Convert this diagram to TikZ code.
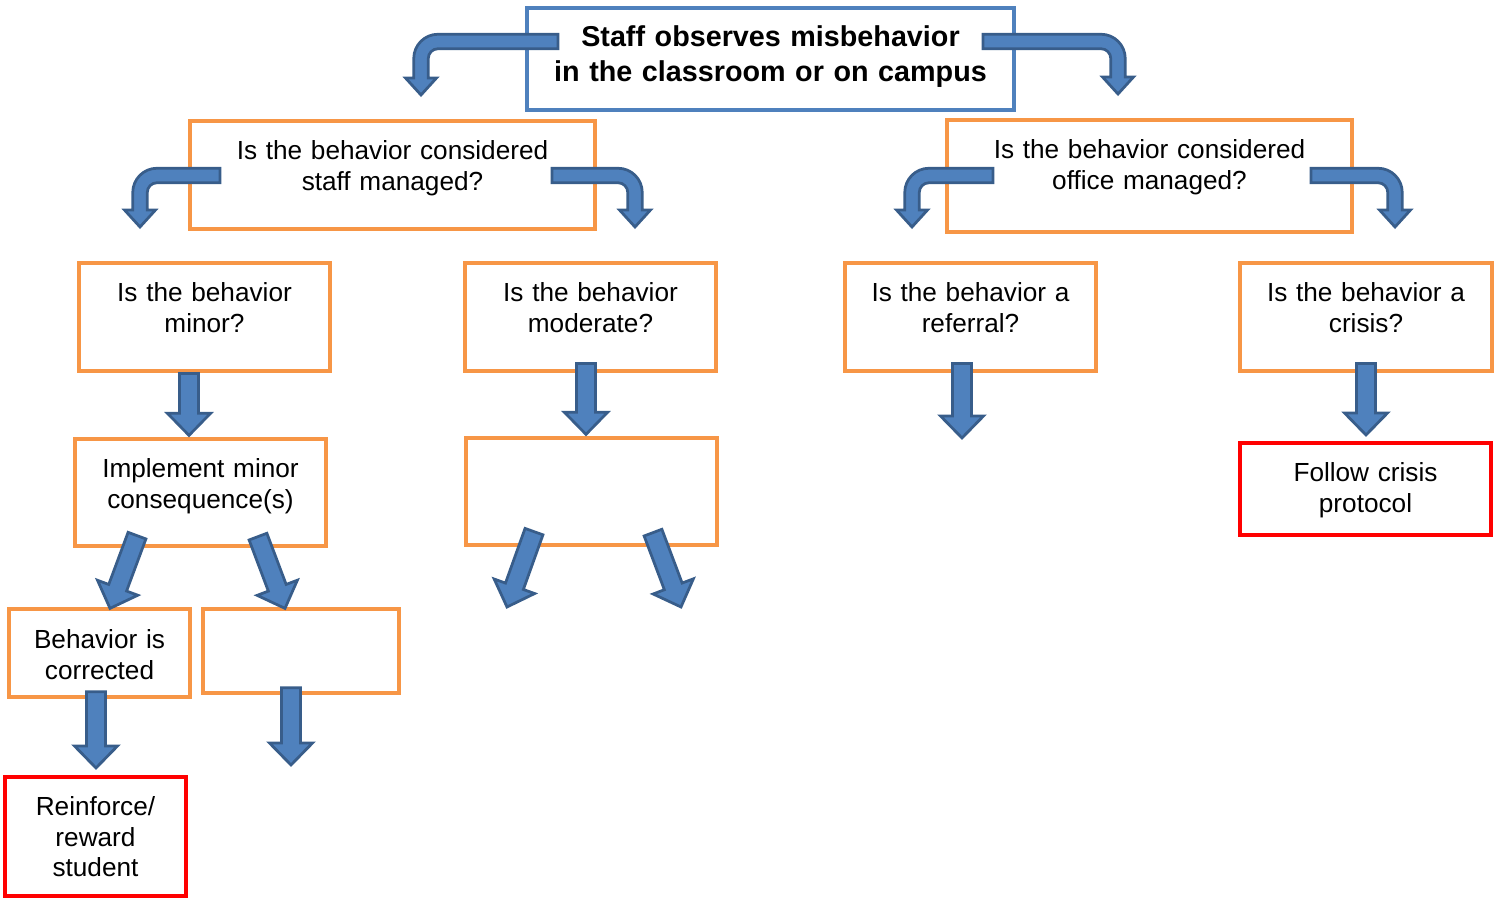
\documentclass[tikz,border=0pt]{standalone}
\usepackage{fontspec}
\setmainfont{Liberation Sans}
\usetikzlibrary{calc}

\definecolor{arrowfill}{HTML}{4F81BD}
\definecolor{arrowline}{HTML}{385D8A}
\definecolor{boxorange}{HTML}{F79646}
\definecolor{boxblue}{HTML}{4F81BD}

\tikzset{
	blockarrow/.style={fill=arrowfill,draw=arrowline,line width=.55mm},
	qbox/.style={draw=boxorange,line width=.65mm,inner sep=0pt,align=center,
		text height=7.7mm,font=\fontsize{14.9}{17.4}\selectfont},
	endbox/.style={qbox,draw=red,line width=.8mm},
	emptybox/.style={draw=boxorange,line width=.65mm,inner sep=0pt},
}

% straight block arrow from #1 to the tip #2
\newcommand\blockarrow[2]{%
	\path #1 coordinate (bs) #2 coordinate (bt);
	\path ($(bt)!4.4mm!(bs)$) coordinate (bh);
	\filldraw[blockarrow] ($(bs)!1.9mm!90:(bt)$) -- ($(bh)!1.9mm!-90:(bs)$)
		-- ($(bh)!4.3mm!-90:(bs)$) -- (bt) -- ($(bh)!4.3mm!90:(bs)$)
		-- ($(bh)!1.9mm!90:(bs)$) -- ($(bs)!1.9mm!-90:(bt)$) -- cycle;}

% bent block arrow, across from #2 then down to the tip #3 (#1: -1 left, 1 right)
\newcommand\bentarrow[3]{%
	\filldraw[blockarrow] let \p1=#2, \p2=#3 in
		(\x1,\y1+1.45mm) -- ({\x2-(#1)*3.4mm},\y1+1.45mm)
		arc[start angle=90,end angle={90-90*(#1)},radius=4.85mm]
		-- ({\x2+(#1)*1.45mm},\y2+3.4mm) -- ({\x2+(#1)*3.1mm},\y2+3.4mm) -- (\x2,\y2)
		-- ({\x2-(#1)*3.1mm},\y2+3.4mm) -- ({\x2-(#1)*1.45mm},\y2+3.4mm)
		-- ({\x2-(#1)*1.45mm},\y1-3.4mm)
		arc[start angle={90-90*(#1)},end angle=90,radius=1.95mm]
		-- (\x1,\y1-1.45mm) -- cycle;}

\begin{document}
\begin{tikzpicture}[x=.2mm,y=-.2mm]
	\useasboundingbox (0,0) rectangle (1500,898);

	% boxes
	\node[qbox,draw=boxblue,text width=97.4mm,text height=7.8mm,text depth=12.6mm,
		font=\fontsize{16.35}{19.9}\selectfont\bfseries] (top) at (770.5,59)
		{Staff observes misbehavior\\in the classroom or on campus};
	\node[qbox,text width=81mm,text depth=13.9mm] (staff) at (392.5,175)
		{Is the behavior considered\\staff managed?};
	\node[qbox,text width=81mm,text depth=14.7mm] (office) at (1149.5,176)
		{Is the behavior considered\\office managed?};
	\node[qbox,text width=50.2mm,text depth=13.9mm] (minor) at (204.5,317)
		{Is the behavior\\minor?};
	\node[qbox,text width=50.2mm,text depth=13.9mm] (moderate) at (590.5,317)
		{Is the behavior\\moderate?};
	\node[qbox,text width=50.2mm,text depth=13.9mm] (referral) at (970.5,317)
		{Is the behavior a\\referral?};
	\node[qbox,text width=50.4mm,text depth=13.9mm] (crisis) at (1366,317)
		{Is the behavior a\\crisis?};
	\node[qbox,text width=50.2mm,text depth=13.7mm] (implement) at (200.5,492.5)
		{Implement minor\\consequence(s)};
	\node[emptybox,minimum width=50.2mm,minimum height=21.4mm] (modnext) at (591.5,491.5) {};
	\node[endbox,text width=50.2mm,text depth=10.7mm] (follow) at (1365.5,489)
		{Follow crisis\\protocol};
	\node[qbox,text width=36.2mm,text height=7.9mm,text depth=9.7mm] (corrected) at (99.5,653)
		{Behavior is\\corrected};
	\node[emptybox,minimum width=39.2mm,minimum height=16.8mm] (minnext) at (301,651) {};
	\node[endbox,text width=36.2mm,text depth=16.1mm] (reinforce) at (95.5,836.5)
		{Reinforce/\\reward\\student};

	% open arrow ends
	\coordinate (topleft) at (421,95);
	\coordinate (topright) at (1118,94);
	\coordinate (staffleft) at (140,227);
	\coordinate (staffright) at (635,227);
	\coordinate (officeleft) at (912,227);
	\coordinate (officeright) at (1395,227);
	\coordinate (referralend) at (962,438);
	\coordinate (minnextend) at (291,765);
	\coordinate (modleft) at (507,607);
	\coordinate (modright) at (681,607);

	% bent arrows
	\bentarrow{-1}{($(top)+(-212.5,-17.5)$)}{(topleft)}
	\bentarrow{1}{($(top)+(212.5,-17.5)$)}{(topright)}
	\bentarrow{-1}{($(staff)+(-172.5,0.5)$)}{(staffleft)}
	\bentarrow{1}{($(staff)+(159.5,0.5)$)}{(staffright)}
	\bentarrow{-1}{($(office)+(-156.5,-0.5)$)}{(officeleft)}
	\bentarrow{1}{($(office)+(161.5,-0.5)$)}{(officeright)}

	% straight arrows
	\blockarrow{($(minor.south)+(-15.5,1)$)}{($(implement.north)+(-11.5,-2)$)}
	\blockarrow{($(moderate.south)+(-4.5,-9)$)}{($(modnext.north)+(-5.5,-2)$)}
	\blockarrow{($(referral.south)+(-8.5,-9)$)}{(referralend)}
	\blockarrow{($(crisis.south)+(0,-9)$)}{($(follow.north)+(0.5,-6)$)}
	\blockarrow{($(implement.south)+(-63.5,-12)$)}{($(corrected.north)+(10.5,1)$)}
	\blockarrow{($(implement.south)+(57.5,-11)$)}{($(minnext.north)+(-16,1)$)}
	\blockarrow{($(modnext.south)+(-57.5,-15)$)}{(modleft)}
	\blockarrow{($(modnext.south)+(61.5,-14)$)}{(modright)}
	\blockarrow{($(corrected.south)+(-3.5,-7)$)}{($(reinforce.north)+(0.5,-7)$)}
	\blockarrow{($(minnext.south)+(-10,-7)$)}{(minnextend)}
\end{tikzpicture}
\end{document}
